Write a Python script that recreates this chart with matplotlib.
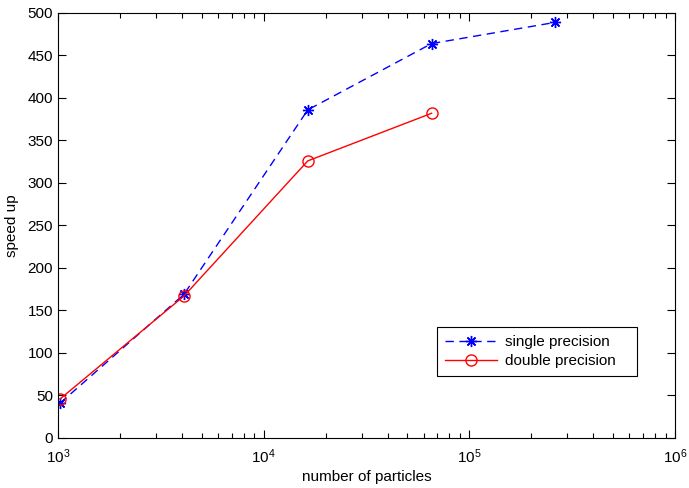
import matplotlib
matplotlib.use("Agg")
import matplotlib.pyplot as plt
from matplotlib.ticker import LogLocator

plt.rcParams['font.family'] = ['Liberation Sans', 'DejaVu Sans']

particles_single = [1024, 4096, 16384, 65536, 262144]
speedup_single = [41, 169, 386, 464, 489]
particles_double = [1024, 4096, 16384, 65536]
speedup_double = [46, 167, 326, 382]
yticks = [0, 50, 100, 150, 200, 250, 300, 350, 400, 450, 500]

fig = plt.figure(figsize=(6.89, 4.88), dpi=100)
ax = fig.add_axes([0.0842, 0.1025, 0.8955, 0.8709])

ax.plot(particles_single, speedup_single, color='blue', linestyle=(0, (6, 4)),
        linewidth=1.0, marker=(8, 2, 0), markersize=8, markeredgewidth=1.0,
        label='single precision')
ax.plot(particles_double, speedup_double, color='red', linestyle='-',
        linewidth=1.0, marker='o', markersize=8, markerfacecolor='none',
        markeredgewidth=1.0, label='double precision')

ax.set_xscale('log')
ax.set_xlim(1e3, 1e6)
ax.set_ylim(0, 500)
ax.set_yticks(yticks)
ax.xaxis.set_major_locator(LogLocator(base=10, numticks=10))
ax.xaxis.set_minor_locator(LogLocator(base=10, subs=range(2, 10), numticks=20))

ax.tick_params(axis='both', which='both', direction='in', top=True, right=True,
               labelsize=11, width=0.8)
ax.tick_params(which='major', length=6)
ax.tick_params(which='minor', length=3.5)
ax.tick_params(axis='x', pad=7)
for s in ax.spines.values():
    s.set_linewidth(0.8)

ax.set_xlabel('number of particles', fontsize=11, labelpad=3)
ax.set_ylabel('speed up', fontsize=11, labelpad=6)

leg = ax.legend(loc='upper left', bbox_to_anchor=(0.614, 0.148, 0.324, 0.113),
                mode='expand', fontsize=11,
                fancybox=False, edgecolor='black', framealpha=1,
                handlelength=3.4, handletextpad=0.5, borderpad=0.55,
                labelspacing=0.3, borderaxespad=0)
leg.get_frame().set_linewidth(0.8)

fig.savefig('out.png', dpi=100)
